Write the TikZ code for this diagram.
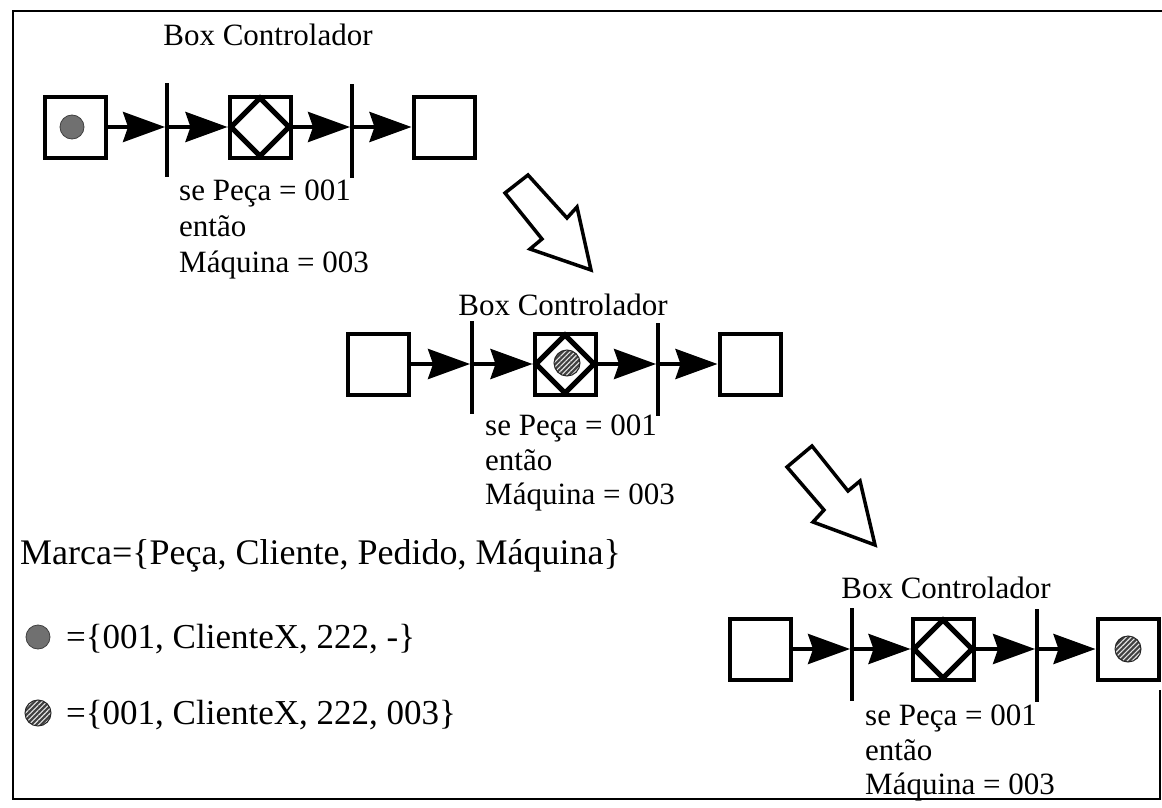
\documentclass[tikz,border=0pt]{standalone}
\usepackage{fontspec}
\setmainfont{Liberation Serif}
\usetikzlibrary{arrows.meta, patterns.meta, positioning}
\tikzset{caixa/.style={draw=black,line width=4pt,minimum size=61pt,inner sep=0pt}}
\tikzset{barra/.style={fill=black,minimum width=3.5pt,minimum height=93pt,inner sep=0pt}}
\tikzset{flecha/.style={line width=4pt,-{Stealth[length=42pt,width=30pt,inset=5pt]}}}
\tikzset{losango/.style={line width=5pt,line join=miter}}
\tikzset{bola/.style={circle,draw=gray!50!black,line width=.8pt,fill=gray!60!black!80,minimum size=24pt,inner sep=0pt}}
\tikzset{bolaok/.style={circle,draw=black!85,line width=1pt,minimum size=26pt,inner sep=0pt,preaction={fill=black!75},pattern={Lines[angle=45,distance=3.5pt,line width=1.1pt]},pattern color=white!80!gray}}
\tikzset{titulo/.style={anchor=base,inner sep=0pt,font=\fontsize{31}{36}\selectfont}}
\tikzset{rotulo/.style={anchor=base west,inner sep=0pt,font=\fontsize{31}{36}\selectfont}}
\tikzset{legenda/.style={anchor=base west,inner sep=0pt,font=\fontsize{35}{40}\selectfont}}
\tikzset{setaoca/.style={line width=3.5pt,line join=miter}}

\begin{document}
\begin{tikzpicture}[x=1pt,y=-1pt]
\useasboundingbox (0,0) rectangle (1162,808);
\draw[line width=2pt] (1162,11) -- (13,11) -- (13,799) -- (1160,799) -- (1160,690);

% primeira etapa
\node [titulo] at (268,46) (tit1) {Box Controlador};
\node [caixa] at (75,127) (c11) {};
\node [bola] at (72,127) (m11) {};
\node [barra] at (167,130) (t11) {};
\node [caixa] at (260,127) (c12) {};
\draw [losango] (c12.center) ++(0,-29) -- ++(29,29) -- ++(-29,29) -- ++(-29,-29) -- cycle;
\node [barra] at (352,131) (t12) {};
\node [caixa] at (444,127) (c13) {};
\draw [flecha] (c11.east) -- (c11.east -| t11.west);
\draw [flecha] (t11.east |- c12.west) -- (c12.west);
\draw [flecha] (c12.east) -- (c12.east -| t12.west);
\draw [flecha] (t12.east |- c13.west) -- (c13.west);
\node [rotulo] at (179,200) (r11) {se Peça = 001};
\node [rotulo] at (179,236) (r12) {então};
\node [rotulo] at (179,272) (r13) {Máquina = 003};

\draw [setaoca] (505,193) -- (528,175) -- (567,218) -- (577,207) -- (591,270) -- (530,249) -- (542,239) -- cycle;

% segunda etapa
\node [titulo] at (563,315) (tit2) {Box Controlador};
\node [caixa] at (378,364) (c21) {};
\node [barra] at (472,367) (t21) {};
\node [caixa] at (565,364) (c22) {};
\draw [losango] (c22.center) ++(0,-29) -- ++(29,29) -- ++(-29,29) -- ++(-29,-29) -- cycle;
\node [bolaok] at (567,363) (m22) {};
\node [barra] at (658,369) (t22) {};
\node [caixa] at (750,364) (c23) {};
\draw [flecha] (c21.east) -- (c21.east -| t21.west);
\draw [flecha] (t21.east |- c22.west) -- (c22.west);
\draw [flecha] (c22.east) -- (c22.east -| t22.west);
\draw [flecha] (t22.east |- c23.west) -- (c23.west);
\node [rotulo] at (485,435) (r21) {se Peça = 001};
\node [rotulo] at (485,470) (r22) {então};
\node [rotulo] at (485,504) (r23) {Máquina = 003};

\draw [setaoca] (787,467) -- (812,446) -- (848,491) -- (860,481) -- (875,545) -- (813,522) -- (824,510) -- cycle;

% terceira etapa
\node [titulo] at (946,598) (tit3) {Box Controlador};
\node [caixa] at (760,649) (c31) {};
\node [barra] at (852,654) (t31) {};
\node [caixa] at (943,649) (c32) {};
\draw [losango] (c32.center) ++(0,-29) -- ++(29,29) -- ++(-29,29) -- ++(-29,-29) -- cycle;
\node [barra] at (1037,655) (t32) {};
\node [caixa] at (1128,649) (c33) {};
\node [bolaok] at (1128,649) (m33) {};
\draw [flecha] (c31.east) -- (c31.east -| t31.west);
\draw [flecha] (t31.east |- c32.west) -- (c32.west);
\draw [flecha] (c32.east) -- (c32.east -| t32.west);
\draw [flecha] (t32.east |- c33.west) -- (c33.west);
\node [rotulo] at (865,725) (r31) {se Peça = 001};
\node [rotulo] at (865,760) (r32) {então};
\node [rotulo] at (865,794) (r33) {Máquina = 003};

% legenda
\node [legenda, font=\fontsize{36}{40}\selectfont] at (20,564) (leg1) {Marca=\{Peça, Cliente, Pedido, Máquina\}};
\node [bola] at (38,637) (lm1) {};
\node [legenda] at (66,648) (leg2) {=\{001, ClienteX, 222, -\}};
\node [bolaok] at (38,713) (lm2) {};
\node [legenda] at (66,724) (leg3) {=\{001, ClienteX, 222, 003\}};
\end{tikzpicture}
\end{document}
